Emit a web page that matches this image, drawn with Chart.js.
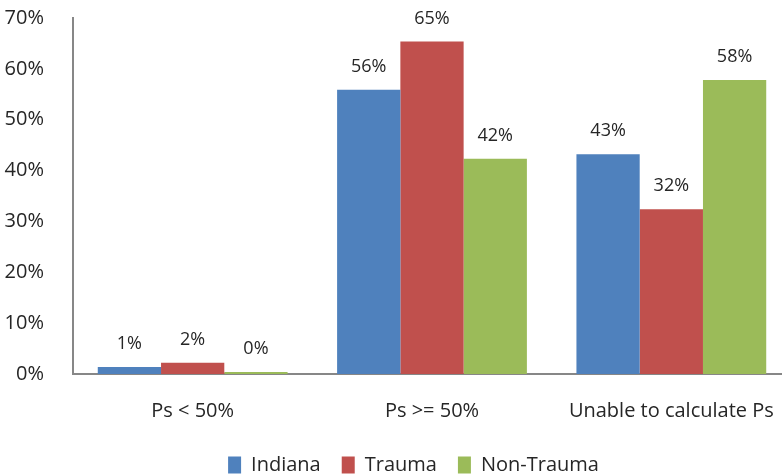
<!DOCTYPE html>
<html>
<head>
<meta charset="utf-8">
<script src="https://cdn.jsdelivr.net/npm/chart.js@4.4.0/dist/chart.umd.min.js"></script>
<style>
  html, body { margin: 0; padding: 0; background: #fff; }
  #wrap { width: 782px; height: 476px; overflow: hidden; position: relative; }
  #box { width: 800px; height: 476px; position: relative; }
</style>
</head>
<body>
<div id="wrap"><div id="box"><canvas id="chart"></canvas></div></div>
<script>
const categories = ['Ps < 50%', 'Ps >= 50%', 'Unable to calculate Ps'];
const seriesNames = ['Indiana', 'Trauma', 'Non-Trauma'];
const indiana = [1.4, 55.9, 43.2];
const trauma = [2.2, 65.4, 32.4];
const nonTrauma = [0.4, 42.3, 57.8];
const yTicks = [0, 10, 20, 30, 40, 50, 60, 70];

const colors = ['#4F81BD', '#C0504D', '#9BBB59'];
const textColor = '#262626';
const font = 'Open Sans';

// value labels above each bar
const barLabels = {
    id: 'barLabels',
    afterDatasetsDraw(chart) {
        const ctx = chart.ctx;
        ctx.save();
        ctx.font = `18px "${font}"`;
        ctx.fillStyle = textColor;
        ctx.textAlign = 'center';
        ctx.textBaseline = 'middle';
        chart.data.datasets.forEach((ds, i) => {
            chart.getDatasetMeta(i).data.forEach((bar, j) => {
                ctx.fillText(Math.round(ds.data[j]) + '%', bar.x, bar.y - 23);
            });
        });
        ctx.restore();
    }
};

// nudge the legend to where the original sits
const legendShift = {
    id: 'legendShift',
    afterLayout(chart) {
        const lg = chart.legend;
        if (!lg) return;
        lg.left += 18; lg.right += 18;
        lg.top += 9; lg.bottom += 9;
    }
};

new Chart(document.getElementById('chart'), {
    type: 'bar',
    data: {
        labels: categories,
        datasets: [indiana, trauma, nonTrauma].map((d, i) => ({
            label: seriesNames[i],
            data: d,
            backgroundColor: colors[i],
            borderWidth: 0,
            categoryPercentage: 0.793,
            barPercentage: 1
        }))
    },
    options: {
        responsive: true,
        maintainAspectRatio: false,
        animation: false,
        layout: { padding: { top: 18, left: 0, right: 9, bottom: 0 } },
        scales: {
            x: {
                grid: { display: false },
                border: { display: true, color: '#878787', width: 2 },
                ticks: { color: textColor, font: { family: font, size: 20 }, padding: 17, maxRotation: 0 },
                afterFit(s) { s.height = 51; }
            },
            y: {
                min: 0,
                max: 70,
                afterBuildTicks(s) { s.ticks = yTicks.map(v => ({ value: v })); },
                grid: { display: false },
                border: { display: true, color: '#878787', width: 2 },
                ticks: { color: textColor, font: { family: font, size: 20 }, padding: 21, callback: v => v + '%' },
                afterFit(s) { s.width = 73; s.paddingTop = 0; s.paddingBottom = 0; }
            }
        },
        plugins: {
            legend: {
                position: 'bottom',
                labels: {
                    color: textColor,
                    font: { family: font, size: 20 },
                    boxWidth: 13,
                    boxHeight: 17,
                    padding: 21
                }
            },
            tooltip: { enabled: false }
        }
    },
    plugins: [barLabels, legendShift]
});
</script>
</body>
</html>
